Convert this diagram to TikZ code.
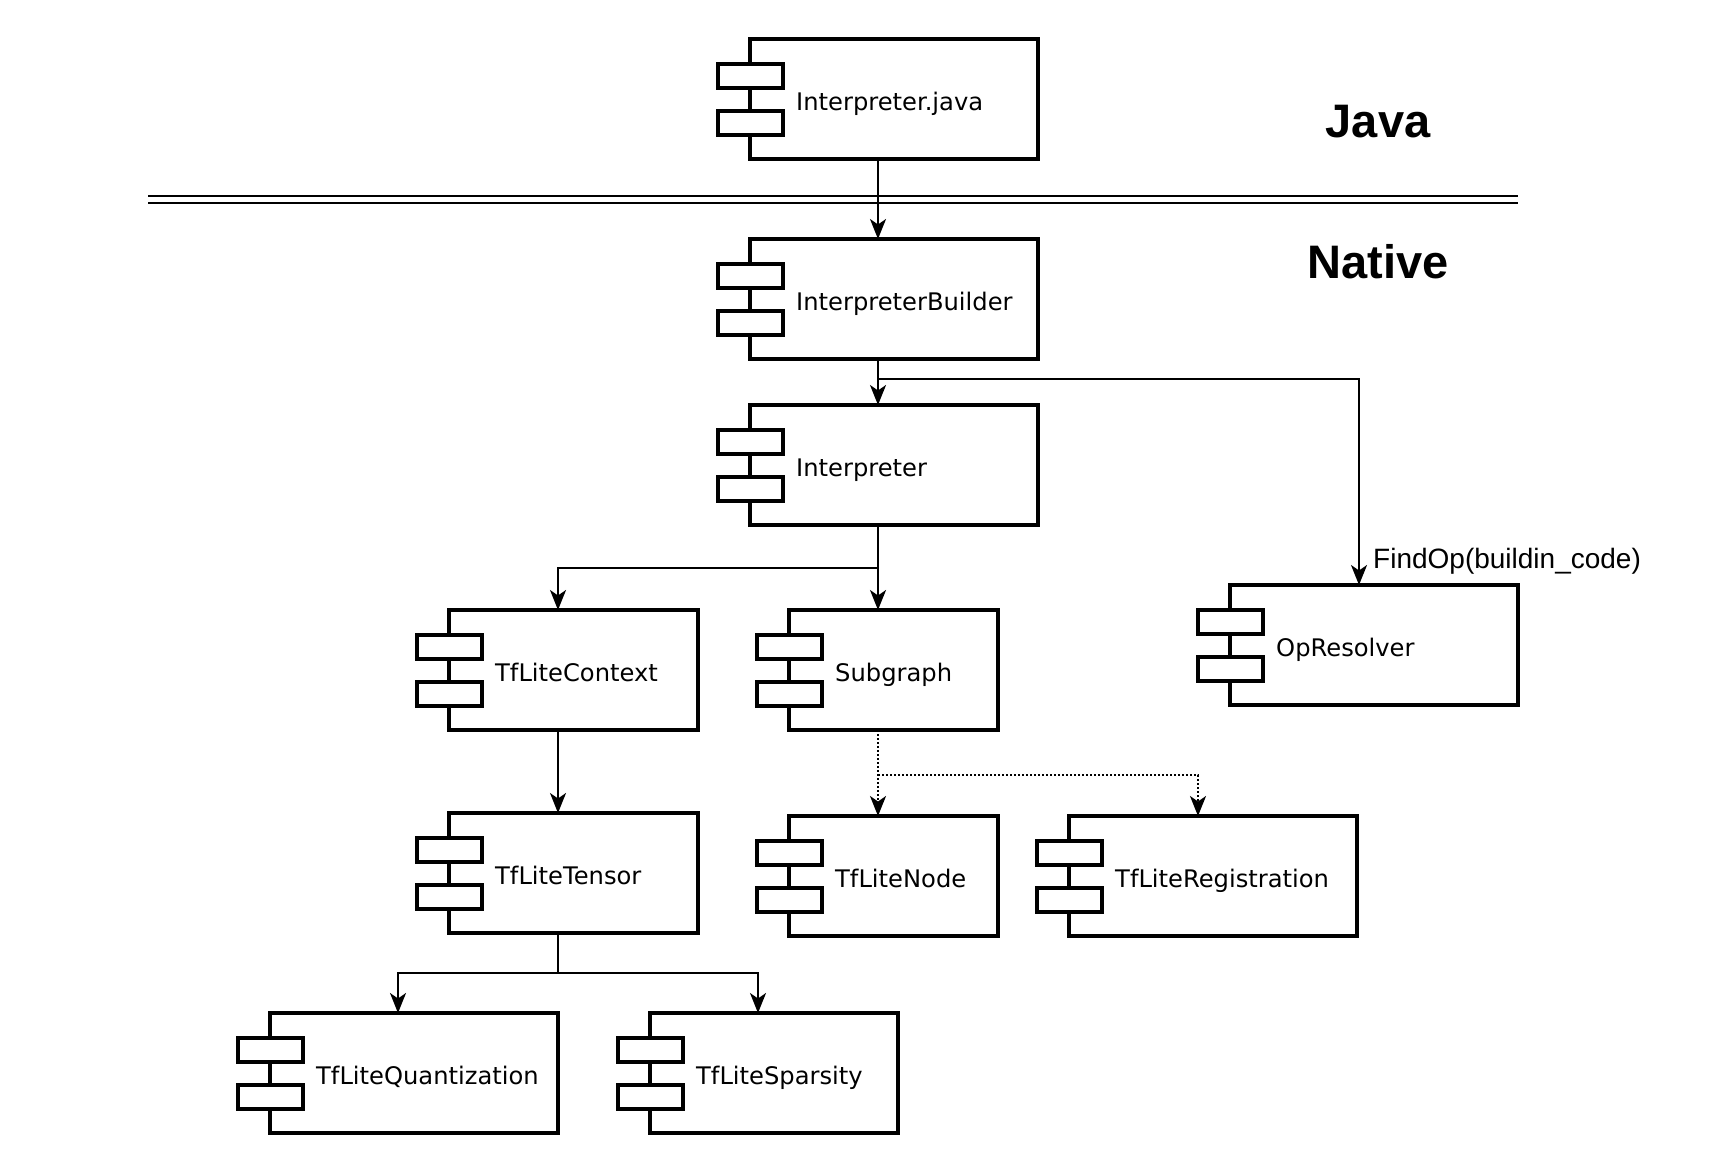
\documentclass[tikz,border=0pt]{standalone}
\usepackage{fontspec}
\setmainfont{DejaVu Sans}
\newfontfamily\arialfont{Liberation Sans}
\usetikzlibrary{arrows.meta,calc}
\newcommand\mycomp[5]{%
  \node[cbox, minimum width=#4pt, anchor=north west] (#1) at (#2,#3) {};
  \node[cpin] (#1-a) at ($(#1.north west)+(0.5,37)$) {};
  \node[cpin] (#1-b) at ($(#1.north west)+(0.5,84)$) {};
  \node[ctext, anchor=base west] (#1-t) at ($(#1.west)+(46,11.5)$) {#5};
}
\begin{document}
\begin{tikzpicture}[x=1pt,y=-1pt,
  cbox/.style={draw, line width=3.3pt, fill=white, minimum height=120pt, inner sep=0pt, outer sep=0pt},
  cpin/.style={draw, line width=3.3pt, fill=white, minimum width=65pt, minimum height=24pt, inner sep=0pt, outer sep=0pt},
  ctext/.style={inner sep=0pt, font=\fontsize{24.2}{29}\selectfont},
  conn/.style={line width=1.9pt, -{Stealth[length=20pt,width=16pt,inset=5.5pt]}},
  dotconn/.style={conn, dash pattern=on 2pt off 2pt},
  sepline/.style={line width=2pt},
  layer/.style={inner sep=0pt, font=\arialfont\bfseries\fontsize{47}{56}\selectfont},
  lbl/.style={inner sep=0pt, font=\arialfont\fontsize{28}{34}\selectfont}]
\fill[white] (0,0) rectangle (1718,1162);
\useasboundingbox (0,0) rectangle (1718,1162);

% separator
\draw[sepline] (148,195.5) -- (1518,195.5);
\draw[sepline] (148,203) -- (1518,203);

% layer titles
\node[layer, anchor=base] (java) at (1378,137) {Java};
\node[layer, anchor=base] (native) at (1378,278) {Native};

% components
\mycomp{ij}{750}{39}{288}{Interpreter.java}
\mycomp{ib}{750}{239}{288}{InterpreterBuilder}
\mycomp{ip}{750}{405}{288}{Interpreter}
\mycomp{ctx}{449}{610}{249}{TfLiteContext}
\mycomp{sg}{789}{610}{209}{Subgraph}
\mycomp{opr}{1230}{585}{288}{OpResolver}
\mycomp{ten}{449}{813}{249}{TfLiteTensor}
\mycomp{nd}{789}{816}{209}{TfLiteNode}
\mycomp{reg}{1069}{816}{288}{TfLiteRegistration}
\mycomp{qz}{270}{1013}{288}{TfLiteQuantization}
\mycomp{sp}{650}{1013}{248}{TfLiteSparsity}

% junctions
\coordinate (j1) at (878,379);
\coordinate (j2) at (878,568);
\coordinate (j3) at (878,775);
\coordinate (j4) at (558,973);

% connectors
\draw[conn] ([xshift=-16pt]ij.south) -- ([xshift=-16pt]ib.north);
\draw[conn] ([xshift=-16pt]ib.south) -- ([xshift=-16pt]ip.north);
\draw[conn] (j1) -| ([xshift=-15pt]opr.north);
\node[lbl, anchor=base west] (findop) at (1373,568) {FindOp(buildin\_code)};
\draw[conn] ([xshift=-16pt]ip.south) -- ([xshift=-15.5pt]sg.north);
\draw[conn] (j2) -| ([xshift=-15.5pt]ctx.north);
\draw[conn] ([xshift=-15.5pt]ctx.south) -- ([xshift=-15.5pt]ten.north);
\draw[dotconn] ([xshift=-15.5pt]sg.south) -- ([xshift=-15.5pt]nd.north);
\draw[dotconn] (j3) -| ([xshift=-15pt]reg.north);
\draw[line width=1.9pt] ([xshift=-15.5pt]ten.south) -- (j4);
\draw[conn] (j4) -| ([xshift=-16pt]qz.north);
\draw[conn] (j4) -| ([xshift=-16pt]sp.north);
\end{tikzpicture}
\end{document}
